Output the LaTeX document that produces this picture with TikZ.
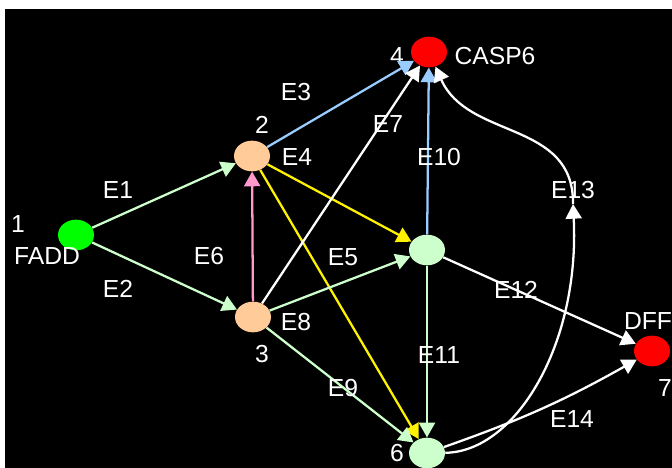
\documentclass[tikz,border=0pt]{standalone}
\usepackage{fontspec}
\setmainfont{Liberation Sans}
\usepackage{tikz}
\usetikzlibrary{shapes.geometric, arrows.meta, positioning}
\definecolor{cLeaf}{HTML}{CCFFCC}
\definecolor{cSky}{HTML}{99CCFF}
\definecolor{cPeach}{HTML}{FFCC99}
\definecolor{cPink}{HTML}{FF99CC}
\definecolor{cLime}{HTML}{00FF00}
\tikzset{
	gene/.style  ={ellipse, minimum width=27pt, minimum height=23pt, inner sep=0pt, draw=none},
	lbl/.style   ={text=white, inner sep=0pt, font=\fontsize{18.5}{20}\selectfont},
	wedge/.style ={-{Triangle[length=11pt, width=12pt]}, line width=1.7pt},
}
\begin{document}
\begin{tikzpicture}[x=0.75pt, y=-0.75pt]
	% page and dark panel
	\useasboundingbox (0,0) rectangle (672,468);
	\clip (0,0) rectangle (672,468);
	\fill[white] (0,0) rectangle (672,468);
	\fill[black] (5,9) rectangle (672,468);

	% genes
	\node[gene, fill=cLime]  (n1) at (76,235) {};
	\node[gene, fill=cPeach] (n2) at (252,156) {};
	\node[gene, fill=cPeach] (n3) at (253,317) {};
	\node[gene, fill=red]    (n4) at (429,52) {};
	\node[gene, fill=cLeaf]  (n5) at (427,250) {};
	\node[gene, fill=cLeaf]  (n6) at (427,453) {};
	\node[gene, fill=red]    (n7) at (652,351) {};
	\coordinate (c13) at (573,204);

	% gene labels
	\node[lbl] (t1) at (18,224) {1};
	\node[lbl] (f1) at (47,256) {FADD};
	\node[lbl] (t2) at (262,125) {2};
	\node[lbl] (t3) at (262,354) {3};
	\node[lbl] (t4) at (397,56) {4};
	\node[lbl] (f4) at (495,56) {CASP6};
	\node[lbl] (t6) at (397,453) {6};
	\node[lbl] (f7) at (648,321) {DFF};
	\node[lbl] (t7) at (665,388) {7};

	% interactions
	\draw[wedge, cLeaf] (n1) -- (n2);
	\draw[wedge, cLeaf] (n1) -- (n3);
	\draw[wedge, cSky] (n2) -- (n4);
	\draw[wedge, yellow] (n2) -- (n5);
	\draw[wedge, yellow] (n2) -- (n6);
	\draw[wedge, cPink] (n3) -- (n2);
	\draw[wedge, white] (n3) -- (n4);
	\draw[wedge, cLeaf] (n3) -- (n5);
	\draw[wedge, cLeaf] (n3) -- (n6);
	\draw[wedge, cSky] (n5) -- (n4);
	\draw[wedge, cLeaf] (n5) -- (n6);
	\draw[wedge, white] (n5) -- (n7);
	\draw[wedge, white] (n6) .. controls (515,452) and (580,345) .. (c13);
	\draw[wedge, white] (c13) .. controls (574,120) and (468,140) .. (n4);
	\draw[wedge, white] (n6) to[bend right=5] (n7);

	% edge names
	\node[lbl] (e1) at (118,190) {E1};
	\node[lbl] (e2) at (118,289) {E2};
	\node[lbl] (e3) at (296,92) {E3};
	\node[lbl] (e4) at (297,157) {E4};
	\node[lbl] (e5) at (343,257) {E5};
	\node[lbl] (e6) at (209,256) {E6};
	\node[lbl] (e7) at (388,124) {E7};
	\node[lbl] (e8) at (296,322) {E8};
	\node[lbl] (e9) at (343,388) {E9};
	\node[lbl] (e10) at (439,157) {E10};
	\node[lbl] (e11) at (439,355) {E11};
	\node[lbl] (e12) at (516,290) {E12};
	\node[lbl] (e13) at (573,190) {E13};
	\node[lbl] (e14) at (572,419) {E14};
\end{tikzpicture}
\end{document}
